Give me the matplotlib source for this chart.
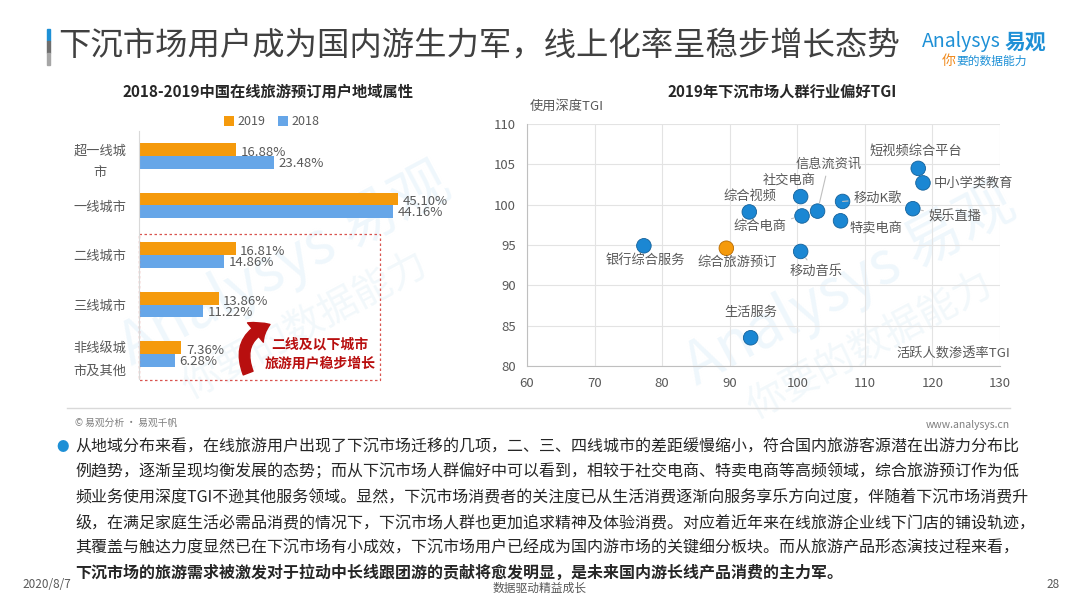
import numpy as np
import matplotlib
matplotlib.use('Agg')
import matplotlib.pyplot as plt
from matplotlib.patches import FancyArrowPatch, Rectangle

plt.rcParams['font.family'] = ['Noto Sans CJK SC', 'DejaVu Sans']

W, H = 1080, 608

# 左图：地域属性
regions = ['超一线城\n市', '一线城市', '二线城市', '三线城市', '非线级城\n市及其他']
share_2019 = [16.88, 45.10, 16.81, 13.86, 7.36]
share_2018 = [23.48, 44.16, 14.86, 11.22, 6.28]

# 右图：行业偏好TGI
industries = ['短视频综合平台', '中小学类教育', '娱乐直播', '移动K歌', '特卖电商',
              '信息流资讯', '社交电商', '综合电商', '综合视频', '移动音乐',
              '银行综合服务', '综合旅游预订', '生活服务']
active_tgi = [117.9, 118.6, 117.1, 106.7, 106.4, 103.0, 100.5, 100.7, 92.9, 100.5,
              77.3, 89.5, 93.1]
depth_tgi = [104.5, 102.7, 99.5, 100.4, 98.0, 99.2, 101.0, 98.6, 99.1, 94.2,
             94.9, 94.6, 83.5]

body_lines = [
    '从地域分布来看，在线旅游用户出现了下沉市场迁移的几项，二、三、四线城市的差距缓慢缩小，符合国内旅游客源潜在出游力分布比',
    '例趋势，逐渐呈现均衡发展的态势；而从下沉市场人群偏好中可以看到，相较于社交电商、特卖电商等高频领域，综合旅游预订作为低',
    '频业务使用深度TGI不逊其他服务领域。显然，下沉市场消费者的关注度已从生活消费逐渐向服务享乐方向过度，伴随着下沉市场消费升',
    '级，在满足家庭生活必需品消费的情况下，下沉市场人群也更加追求精神及体验消费。对应着近年来在线旅游企业线下门店的铺设轨迹，',
    '其覆盖与触达力度显然已在下沉市场有小成效，下沉市场用户已经成为国内游市场的关键细分板块。而从旅游产品形态演技过程来看，',
    '下沉市场的旅游需求被激发对于拉动中长线跟团游的贡献将愈发明显，是未来国内游长线产品消费的主力军。',
]

ORANGE = '#F59A0C'
BLUE = '#66A6E8'
DOT = '#1B87D3'
GRAY = '#595959'


def px(x, y):
    return x / W, 1 - y / H


fig = plt.figure(figsize=(W / 100, H / 100), dpi=100)
fig.patch.set_facecolor('white')

# 水印（放在坐标轴下面）
for (wx, wy) in [(285, 265), (850, 285)]:
    fig.text(*px(wx, wy), 'Analysys 易观', fontsize=42, color='#EFF7FC',
             rotation=28, ha='center', va='center', style='italic', zorder=0)
    fig.text(*px(wx + 20, wy + 60), '你要的数据能力', fontsize=28, color='#F2F8FB',
             rotation=28, ha='center', va='center', style='italic', zorder=0)

# 标题
fig.add_artist(Rectangle(px(47, 41), 3 / W, 12 / H, transform=fig.transFigure,
                         color='#1E90D6'))
fig.add_artist(Rectangle(px(47, 53), 3 / W, 12 / H, transform=fig.transFigure,
                         color='#6E6E6E'))
fig.add_artist(Rectangle(px(47, 65), 3 / W, 12 / H, transform=fig.transFigure,
                         color='#A6A6A6'))
fig.text(*px(58, 47), '下沉市场用户成为国内游生力军，线上化率呈稳步增长态势',
         fontsize=23.3, color='#404040', va='center', ha='left')

# logo
fig.text(*px(922, 42), 'Analysys', fontsize=14, color='#1E90D6', style='italic',
         va='center', ha='left')
fig.text(*px(1005, 42), '易观', fontsize=15, color='#1E90D6', fontweight='bold',
         va='center', ha='left')
fig.text(*px(942, 61), '你', fontsize=10, color='#F08A1C', style='italic',
         va='center', ha='left')
fig.text(*px(956, 61), '要的数据能力', fontsize=8.5, color='#1E90D6', style='italic',
         va='center', ha='left')

# ---- 左图 ----
ax1 = fig.add_axes([139 / W, 1 - 379 / H, 316 / W, 248 / H])
ax1.set_zorder(2)
ax1.patch.set_alpha(0)
y = np.arange(len(regions))
bh = 0.26
ax1.barh(y - bh / 2, share_2019, height=bh, color=ORANGE, label='2019')
ax1.barh(y + bh / 2, share_2018, height=bh, color=BLUE, label='2018')
for yi, v in zip(y, share_2019):
    ax1.text(v + 0.8, yi - bh / 2 + 0.06, f'{v:.2f}%', va='center', ha='left',
             fontsize=9.5, color=GRAY)
for yi, v in zip(y, share_2018):
    ax1.text(v + 0.8, yi + bh / 2 + 0.02, f'{v:.2f}%', va='center', ha='left',
             fontsize=9.5, color=GRAY)
ax1.set_xlim(0, 55)
ax1.set_ylim(len(regions) - 0.5, -0.5)
ax1.set_yticks(y)
ax1.set_yticklabels(regions, fontsize=9.5, color=GRAY, linespacing=1.9,
                    ha='center')
ax1.tick_params(axis='y', length=0, pad=28)
ax1.set_xticks([])
for s in ['top', 'right', 'bottom']:
    ax1.spines[s].set_visible(False)
ax1.spines['left'].set_color('#D9D9D9')
leg = ax1.legend(loc='lower center', bbox_to_anchor=(0.42, 0.99), ncol=2, frameon=False,
                 fontsize=9, handlelength=0.8, handleheight=0.8, handletextpad=0.3,
                 columnspacing=1.0, borderaxespad=0)
for t in leg.get_texts():
    t.set_color(GRAY)
fig.text(*px(268, 92), '2018-2019中国在线旅游预订用户地域属性', fontsize=11,
         fontweight='bold', color='#262626', ha='center', va='center')

# 红色虚线框与箭头
ax1.add_patch(Rectangle((0, 1.58), 42, 2.95, fill=False, edgecolor='#D9534F',
                        linestyle=(0, (2, 2)), linewidth=0.9, clip_on=False))
ax1.add_patch(FancyArrowPatch((19.0, 4.38), (22.8, 3.40),
                              connectionstyle='arc3,rad=-0.5',
                              arrowstyle='simple,head_width=1.2,head_length=0.8,tail_width=0.5',
                              mutation_scale=15, color='#B80F0F', clip_on=False,
                              shrinkA=0, shrinkB=0))
ax1.text(31.5, 4.0, '二线及以下城市\n旅游用户稳步增长', fontsize=10, fontweight='bold',
         color='#B80F0F', ha='center', va='center', linespacing=1.5)

# ---- 右图 ----
ax2 = fig.add_axes([527 / W, 1 - 366 / H, 473 / W, 242 / H])
ax2.set_zorder(2)
ax2.patch.set_alpha(0)
colors = [ORANGE if n == '综合旅游预订' else DOT for n in industries]
edges = ['#B86A00' if n == '综合旅游预订' else '#14619A' for n in industries]
ax2.scatter(active_tgi, depth_tgi, s=110, c=colors, edgecolors=edges,
            linewidths=0.6, zorder=3)
ax2.set_xlim(60, 130)
ax2.set_ylim(80, 110)
ax2.set_xticks(np.arange(60, 131, 10))
ax2.set_yticks(np.arange(80, 111, 5))
ax2.grid(True, color='#E3E3E3', linewidth=0.8)
ax2.set_axisbelow(True)
ax2.tick_params(length=0, labelsize=9.5, labelcolor=GRAY, pad=8)
for s in ['top', 'right']:
    ax2.spines[s].set_visible(False)
for s in ['left', 'bottom']:
    ax2.spines[s].set_color('#BFBFBF')

# 标签偏移(像素)、对齐、是否引线
label_pos = {
    '短视频综合平台': (-2, 17, 'center', False),
    '中小学类教育': (11, 0, 'left', False),
    '娱乐直播': (16, -8, 'left', True),
    '移动K歌': (11, 3, 'left', True),
    '特卖电商': (9, -7, 'left', False),
    '信息流资讯': (11, 47, 'center', True),
    '社交电商': (-12, 16, 'center', False),
    '综合电商': (-16, -11, 'right', True),
    '综合视频': (1, 16, 'center', False),
    '移动音乐': (15, -20, 'center', True),
    '银行综合服务': (1, -15, 'center', False),
    '综合旅游预订': (11, -14, 'center', False),
    '生活服务': (0, 25, 'center', False),
}
for name, xv, yv in zip(industries, active_tgi, depth_tgi):
    dx, dy, ha, lead = label_pos[name]
    ap = dict(arrowstyle='-', color='#BFBFBF', lw=0.8, shrinkA=2, shrinkB=6) if lead else None
    ax2.annotate(name, (xv, yv), xytext=(dx, dy), textcoords='offset pixels',
                 ha=ha, va='center', fontsize=9.5, color=GRAY, arrowprops=ap)

fig.text(*px(530, 106), '使用深度TGI', fontsize=9.5, color=GRAY, ha='left', va='center')
fig.text(*px(1010, 353), '活跃人数渗透率TGI', fontsize=9.5, color=GRAY, ha='right',
         va='center')
fig.text(*px(782, 92), '2019年下沉市场人群行业偏好TGI', fontsize=11,
         fontweight='bold', color='#262626', ha='center', va='center')

# 分隔线与出处
fig.add_artist(plt.Line2D([67 / W, 1010 / W], [1 - 408 / H, 1 - 408 / H],
                          color='#D9D9D9', linewidth=1))
fig.text(*px(75, 423), '© 易观分析 · 易观千帆', fontsize=7, color='#7F7F7F',
         ha='left', va='center')
fig.text(*px(1010, 425), 'www.analysys.cn', fontsize=7.5, color='#7F7F7F',
         ha='right', va='center')

# 正文
fig.text(*px(63, 447), '●', fontsize=9, color='#1E90D6', ha='center', va='center')
for i, line in enumerate(body_lines):
    fig.text(*px(75, 447 + i * 25.2), line, fontsize=11.5, color='#262626',
             ha='left', va='center',
             fontweight='bold' if i == len(body_lines) - 1 else 'normal')

# 页脚
fig.text(*px(22, 585), '2020/8/7', fontsize=8.5, color='#595959', ha='left', va='center')
fig.text(*px(540, 588), '数据驱动精益成长', fontsize=8.5, color='#595959', ha='center',
         va='center')
fig.text(*px(1060, 585), '28', fontsize=8.5, color='#595959', ha='right', va='center')

fig.savefig('out.png', dpi=100)
